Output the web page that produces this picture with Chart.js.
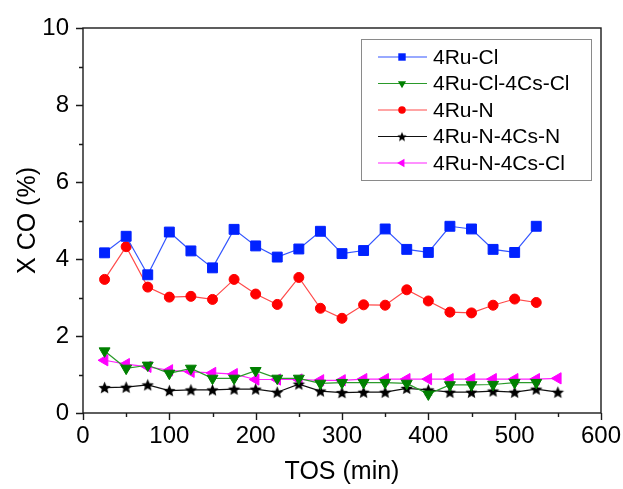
<!DOCTYPE html>
<html>
<head>
<meta charset="utf-8">
<script src="https://cdn.jsdelivr.net/npm/chart.js@4.4.1/dist/chart.umd.min.js"></script>
<style>
  html, body { margin: 0; padding: 0; background: #fff; }
  canvas { display: block; }
</style>
</head>
<body>
<canvas id="chart" width="623" height="489"></canvas>
<script>
// ----- Data -----
const tos = [25, 50, 75, 100, 125, 150, 175, 200, 225, 250, 275, 300, 325, 350, 375, 400, 425, 450, 475, 500, 525, 550];

const ruCl      = [4.16, 4.59, 3.59, 4.70, 4.21, 3.77, 4.77, 4.34, 4.05, 4.26, 4.72, 4.14, 4.22, 4.78, 4.25, 4.17, 4.85, 4.78, 4.25, 4.17, 4.85, null];
const ruClCsCl  = [1.61, 1.16, 1.24, 1.03, 1.16, 0.90, 0.90, 1.10, 0.90, 0.90, 0.77, 0.79, 0.79, 0.79, 0.77, 0.49, 0.73, 0.73, 0.74, 0.79, 0.79, null];
const ruN       = [3.47, 4.32, 3.27, 3.01, 3.03, 2.95, 3.47, 3.09, 2.82, 3.52, 2.72, 2.46, 2.81, 2.80, 3.20, 2.91, 2.62, 2.60, 2.80, 2.96, 2.87, null];
const ruNCsN    = [0.66, 0.67, 0.73, 0.58, 0.60, 0.60, 0.62, 0.62, 0.54, 0.75, 0.57, 0.53, 0.54, 0.54, 0.64, 0.60, 0.54, 0.54, 0.57, 0.54, 0.62, 0.54];
const ruNCsCl   = [1.37, 1.27, 1.20, 1.11, 1.07, 1.04, 1.01, 0.87, 0.87, 0.87, 0.85, 0.85, 0.88, 0.88, 0.88, 0.88, 0.88, 0.88, 0.88, 0.88, 0.88, 0.90];

const seriesNames = ["4Ru-Cl", "4Ru-Cl-4Cs-Cl", "4Ru-N", "4Ru-N-4Cs-N", "4Ru-N-4Cs-Cl"];

const xTickLabels = [0, 100, 200, 300, 400, 500, 600];
const yTickLabels = [0, 2, 4, 6, 8, 10];

const FONT = "'Liberation Sans', Arial, Helvetica, sans-serif";

// helpers
function toPoints(vals) {
  return tos.map((x, i) => ({ x, y: vals[i] })).filter(p => p.y !== null);
}

function starImage(r, color) {
  const c = document.createElement("canvas");
  const s = Math.ceil(r * 2) + 2;
  c.width = c.height = s;
  const g = c.getContext("2d");
  g.fillStyle = color;
  g.beginPath();
  for (let i = 0; i < 10; i++) {
    const rad = i % 2 ? r * 0.45 : r;
    const a = -Math.PI / 2 + i * Math.PI / 5;
    g.lineTo(s / 2 + rad * Math.cos(a), s / 2 + rad * Math.sin(a) + 0.6);
  }
  g.closePath();
  g.fill();
  return c;
}

const starBig = starImage(6.5, "#000");
const starSmall = starImage(5, "#000");

function makeDataset(label, vals, line, fill, style, radius, rotation) {
  return {
    label,
    data: toPoints(vals),
    borderColor: line,
    borderWidth: 1.2,
    pointStyle: style,
    pointRadius: radius,
    pointHoverRadius: radius,
    pointRotation: rotation || 0,
    pointBackgroundColor: fill,
    pointBorderColor: fill,
    pointBorderWidth: 1,
    tension: 0
  };
}

const datasets = [
  makeDataset(seriesNames[0], ruCl, "#3355ff", "#0022ff", "rect", 7),
  makeDataset(seriesNames[1], ruClCsCl, "#2a9a2a", "#008000", "triangle", 6.3, 180),
  makeDataset(seriesNames[2], ruN, "#ff4a4a", "#ff0000", "circle", 5),
  makeDataset(seriesNames[3], ruNCsN, "#111", "#000", starBig, 6.5),
  makeDataset(seriesNames[4], ruNCsCl, "#ff22ff", "#ff00ff", "triangle", 6.5, -90)
];

// ----- Legend marker drawing -----
function drawMarker(ctx, ds, x, y, scale) {
  const st = ds.pointStyle;
  if (st instanceof HTMLCanvasElement) {
    const img = st === starBig ? starSmall : st;
    ctx.drawImage(img, x - img.width / 2, y - img.height / 2);
    return;
  }
  const r = ds.pointRadius * scale;
  ctx.save();
  ctx.translate(x, y);
  ctx.rotate((ds.pointRotation || 0) * Math.PI / 180);
  ctx.fillStyle = ds.pointBackgroundColor;
  ctx.beginPath();
  if (st === "rect") {
    const h = r * Math.SQRT1_2;
    ctx.rect(-h, -h, 2 * h, 2 * h);
  } else if (st === "triangle") {
    for (let i = 0; i < 3; i++) {
      const a = i * 2 * Math.PI / 3;
      ctx.lineTo(Math.sin(a) * r, -Math.cos(a) * r);
    }
    ctx.closePath();
  } else {
    ctx.arc(0, 0, r, 0, Math.PI * 2);
  }
  ctx.fill();
  ctx.restore();
}

const legendBox = {
  id: "legendBox",
  afterDatasetsDraw(chart) {
    const ctx = chart.ctx;
    const area = chart.chartArea;
    const x0 = area.right - 240, y0 = area.top + 11, w = 230, h = 141;
    ctx.save();
    ctx.fillStyle = "#fff";
    ctx.fillRect(x0, y0, w, h);
    ctx.strokeStyle = "#8a8a8a";
    ctx.lineWidth = 1;
    ctx.strokeRect(x0 + 0.5, y0 + 0.5, w, h);
    ctx.font = "21px " + FONT;
    ctx.textBaseline = "middle";
    chart.data.datasets.forEach((ds, i) => {
      const y = y0 + 18 + i * 26.5;
      ctx.strokeStyle = ds.borderColor;
      ctx.lineWidth = 1.2;
      ctx.beginPath();
      ctx.moveTo(x0 + 17, y);
      ctx.lineTo(x0 + 66, y);
      ctx.stroke();
      drawMarker(ctx, ds, x0 + 41, y, 0.75);
      ctx.fillStyle = "#000";
      ctx.fillText(ds.label, x0 + 72, y + 1);
    });
    ctx.restore();
  }
};

// frame + outward ticks (major / minor)
const frameTicks = {
  id: "frameTicks",
  afterDraw(chart) {
    const ctx = chart.ctx;
    const a = chart.chartArea;
    const xs = chart.scales.x, ys = chart.scales.y;
    ctx.save();
    ctx.strokeStyle = "#1a1a1a";
    ctx.lineWidth = 1.4;
    ctx.strokeRect(a.left, a.top, a.right - a.left, a.bottom - a.top);
    ctx.beginPath();
    xs.ticks.forEach(t => {
      const px = Math.round(xs.getPixelForValue(t.value)) + 0.5;
      const len = xTickLabels.includes(t.value) ? 7 : 4;
      ctx.moveTo(px, a.bottom);
      ctx.lineTo(px, a.bottom + len);
    });
    ys.ticks.forEach(t => {
      const py = Math.round(ys.getPixelForValue(t.value)) + 0.5;
      const len = yTickLabels.includes(t.value) ? 7 : 4;
      ctx.moveTo(a.left, py);
      ctx.lineTo(a.left - len, py);
    });
    ctx.stroke();
    ctx.restore();
  }
};

new Chart(document.getElementById("chart"), {
  type: "line",
  data: { datasets },
  options: {
    responsive: false,
    animation: false,
    events: [],
    layout: { padding: 0 },
    plugins: {
      legend: { display: false },
      tooltip: { enabled: false }
    },
    scales: {
      x: {
        type: "linear",
        min: 0,
        max: 600,
        border: { display: false },
        grid: { display: false, drawTicks: false },
        afterFit: s => { s.height = 76; s.paddingLeft = 0; s.paddingRight = 22; },
        ticks: {
          stepSize: 50,
          autoSkip: false,
          maxRotation: 0,
          padding: 9,
          color: "#000",
          font: { family: FONT, size: 24 },
          callback: v => (xTickLabels.includes(v) ? String(v) : "")
        },
        title: {
          display: true,
          text: "TOS (min)",
          color: "#000",
          font: { family: FONT, size: 25 },
          padding: { top: 0, bottom: 2 }
        }
      },
      y: {
        min: 0,
        max: 10,
        border: { display: false },
        grid: { display: false, drawTicks: false },
        afterFit: s => { s.width = 83; s.paddingTop = 28; s.paddingBottom = 0; },
        ticks: {
          stepSize: 1,
          autoSkip: false,
          padding: 14,
          color: "#000",
          font: { family: FONT, size: 24 },
          callback: v => (yTickLabels.includes(v) ? String(v) : "")
        },
        title: {
          display: true,
          text: "X CO (%)",
          color: "#000",
          font: { family: FONT, size: 25 },
          padding: { top: 13, bottom: 0 }
        }
      }
    }
  },
  plugins: [legendBox, frameTicks]
});
</script>
</body>
</html>
